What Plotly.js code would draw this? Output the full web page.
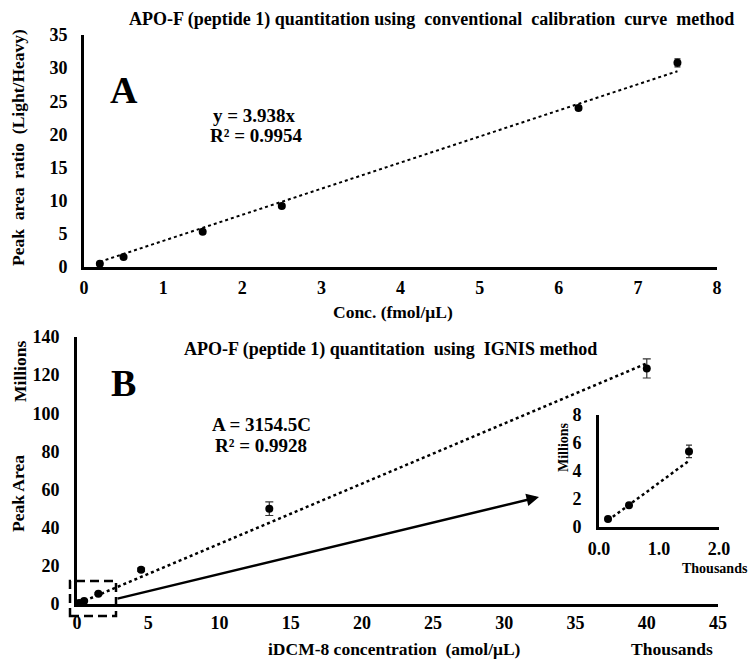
<!DOCTYPE html>
<html>
<head>
<meta charset="utf-8">
<script src="https://cdn.plot.ly/plotly-3.0.1.min.js"></script>
<style>html,body{margin:0;padding:0;background:#fff;}#chart{width:750px;height:661px;}</style>
</head>
<body>
<div id="chart"></div>
<script>
// Panel A: conventional calibration curve
const concA = [0.2, 0.5, 1.5, 2.5, 6.25, 7.5];          // fmol/µL
const ratioA = [0.5, 1.5, 5.3, 9.2, 24.0, 30.8];        // Light/Heavy
const errA = [0.15, 0.2, 0.25, 0.3, 0.3, 0.6];
const slopeA = 3.938;

// Panel B: IGNIS method (x in thousands amol/µL, y in millions)
const concB = [0.15, 0.5, 1.5, 4.5, 13.5, 40];
const areaB = [0.57, 1.55, 5.4, 18, 50, 123.5];
const errB = [0.1, 0.1, 0.45, 0.8, 3.6, 5];
const slopeB = 3.1545; // 3154.5 per amol/µL -> millions per thousand

const ticksA_x = [0,1,2,3,4,5,6,7,8];
const ticksA_y = [0,5,10,15,20,25,30,35];
const ticksB_x = [0,5,10,15,20,25,30,35,40,45];
const ticksB_y = [0,20,40,60,80,100,120,140];
const ticksI_x = [0,1,2];
const ticksI_y = [0,2,4,6,8];

const F = "Liberation Serif, Times New Roman, serif";
const tf = {family: F, size: 18, color: '#000', weight: 'bold'};

function fitLine(xs, slope){
  const x0 = Math.min(...xs), x1 = Math.max(...xs);
  return {x: [x0, x1], y: [slope*x0, slope*x1]};
}
const fA = fitLine(concA, slopeA);
const fB = fitLine(concB, slopeB);
const nI = 3;
const fI = fitLine(concB.slice(0,nI), slopeB);

const mk = {color: '#000', size: 8};
const traces = [
  {x: fA.x, y: fA.y, xaxis:'x', yaxis:'y', mode:'lines', line:{color:'#000', width:2, dash:'dot'}, hoverinfo:'skip'},
  {x: concA, y: ratioA, xaxis:'x', yaxis:'y', mode:'markers', marker: mk, cliponaxis:false,
   error_y:{type:'data', array: errA, visible:true, color:'#222', thickness:1.2, width:3}},
  {x: fB.x, y: fB.y, xaxis:'x2', yaxis:'y2', mode:'lines', line:{color:'#000', width:2.5, dash:'dot'}, hoverinfo:'skip'},
  {x: concB, y: areaB, xaxis:'x2', yaxis:'y2', mode:'markers', marker: mk, cliponaxis:false,
   error_y:{type:'data', array: errB, visible:true, color:'#333', thickness:1.2, width:4}},
  {x: fI.x, y: fI.y, xaxis:'x3', yaxis:'y3', mode:'lines', line:{color:'#000', width:2.5, dash:'dot'}, hoverinfo:'skip'},
  {x: concB.slice(0,nI), y: areaB.slice(0,nI), xaxis:'x3', yaxis:'y3', mode:'markers', marker: mk, cliponaxis:false,
   error_y:{type:'data', array: errB.slice(0,nI), visible:true, color:'#333', thickness:1.2, width:3}}
];

function ax(domain, range, tickvals, anchor, extra){
  return Object.assign({domain: domain, range: range, tickvals: tickvals, anchor: anchor,
    showline:true, linecolor:'#000', linewidth:3, showgrid:false, zeroline:false,
    ticks:'', tickfont: tf, fixedrange:true}, extra||{});
}

const W = 750, H = 661;
const px = v => v/W, py = v => 1 - v/H;

function ann(text, x, y, size, extra){
  return Object.assign({text: text, x: px(x), y: py(y), xref:'paper', yref:'paper', showarrow:false,
    xanchor:'center', yanchor:'middle', font:{family:F, size:size, color:'#000', weight:'bold'}}, extra||{});
}

const layout = {
  width: W, height: H, margin:{l:0,r:0,t:0,b:0}, showlegend:false,
  paper_bgcolor:'#fff', plot_bgcolor:'rgba(0,0,0,0)',
  xaxis: ax([px(84), px(717)], [0,8], ticksA_x, 'y', {ticklabelstandoff: 2}),
  yaxis: ax([py(267), py(35)], [0,35], ticksA_y, 'x', {ticklabelstandoff: 10}),
  xaxis2: ax([px(77), px(718)], [0,45], ticksB_x, 'y2', {ticklabelstandoff: 0}),
  yaxis2: ax([py(604), py(337)], [0,140], ticksB_y, 'x2', {ticklabelstandoff: 11}),
  xaxis3: ax([px(599), px(719)], [0,2], ticksI_x, 'y3', {ticklabelstandoff: 3, tickformat:'.1f'}),
  yaxis3: ax([py(527), py(415)], [0,8], ticksI_y, 'x3', {ticklabelstandoff: 11}),
  annotations: [
    ann('APO-F (peptide 1) quantitation using  conventional  calibration  curve  method', 431, 20, 18),
    ann('Conc. (fmol/μL)', 393, 312, 17.5),
    ann('Peak  area  ratio  (Light/Heavy)', 18, 148, 17.5, {textangle:-90}),
    ann('A', 124, 90, 38),
    ann('y = 3.938x', 254, 116, 19),
    ann('R² = 0.9954', 256, 135, 19),
    ann('APO-F (peptide 1) quantitation  using  IGNIS method', 390, 350, 18),
    ann('B', 123, 383, 38),
    ann('A = 3154.5C', 261, 425, 19),
    ann('R² = 0.9928', 261, 445, 19),
    ann('Millions', 20, 372, 17.5, {textangle:-90}),
    ann('Peak Area', 18, 494, 17.5, {textangle:-90}),
    ann('iDCM-8 concentration  (amol/μL)', 395, 649, 17.5),
    ann('Thousands', 672, 649, 17.5),
    ann('Millions', 564, 447, 14, {textangle:-90}),
    ann('Thousands', 715, 568, 14),
    {x: px(539), y: py(497), xref:'paper', yref:'paper', ax: 116-539, ay: 599-497, axref:'pixel', ayref:'pixel',
     text:'', showarrow:true, arrowhead:2, arrowsize:1, arrowwidth:2.5, arrowcolor:'#000'}
  ],
  shapes: [
    {type:'rect', xref:'paper', yref:'paper', x0: px(70), x1: px(116), y0: py(616), y1: py(581),
     line:{color:'#000', width:2.5, dash:'9px,5px'}, fillcolor:'rgba(0,0,0,0)'}
  ]
};

Plotly.newPlot('chart', traces, layout, {displayModeBar:false, staticPlot:true});
</script>
</body>
</html>
